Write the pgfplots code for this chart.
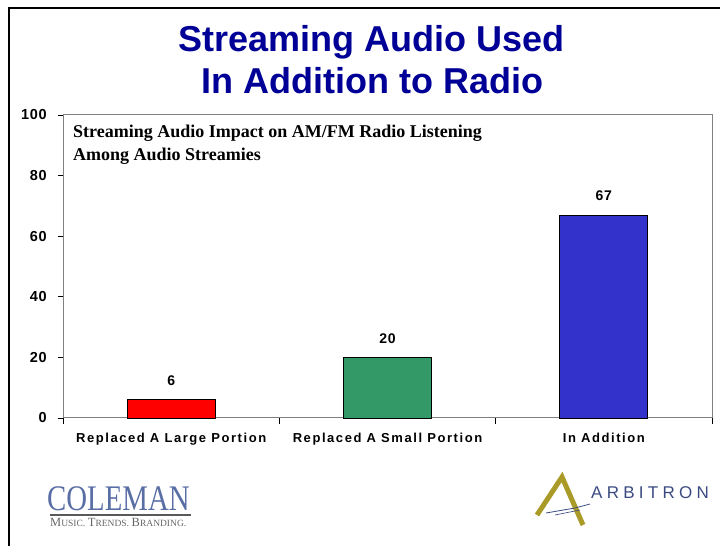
\documentclass[border=0pt]{standalone}
\usepackage{pgfplots}
\pgfplotsset{compat=1.18}
\usepackage{fontspec}
\setmainfont{Liberation Sans}
\newfontfamily\spaced[LetterSpace=12]{Liberation Sans}
\newfontfamily\numfont[LetterSpace=5]{Liberation Sans}
\newfontfamily\seriffont{Liberation Serif}
\newfontfamily\arbfont[LetterSpace=25]{Liberation Sans}
\definecolor{titleblue}{RGB}{0,0,150}
\definecolor{barred}{RGB}{255,0,0}
\definecolor{bargreen}{RGB}{51,153,102}
\definecolor{barblue}{RGB}{51,51,204}
\definecolor{colemanblue}{RGB}{90,110,166}
\definecolor{arbblue}{RGB}{58,74,128}
\definecolor{arbgold}{RGB}{170,155,40}
\newcommand{\fakesc}[2]{{\fontsize{12.5}{12}\selectfont #1}{\fontsize{9.5}{10}\selectfont #2}}
\begin{document}
\begin{tikzpicture}[x=1pt,y=1pt]
\useasboundingbox (0,0) rectangle (720,546);
\draw[line width=2.5pt] (7.75,538) -- (720,538);
\draw[line width=2.5pt] (9,539.25) -- (9,0);
\node[anchor=base, inner sep=0pt, font=\bfseries\fontsize{36}{40}\selectfont, text=titleblue] at (371.5,494) {Streaming Audio Used};
\node[anchor=base, inner sep=0pt, font=\bfseries\fontsize{36}{40}\selectfont, text=titleblue] at (372.5,452) {In Addition to Radio};
\begin{axis}[
  at={(63pt,128pt)}, anchor=south west, scale only axis,
  width=649pt, height=303pt,
  ymin=0, ymax=100, xmin=-0.5, xmax=2.5,
  ybar, bar width=88pt,
  ytick={0,20,40,60,80,100},
  xtick={0,1,2},
  xticklabels={Replaced A Large Portion, Replaced A Small Portion, In Addition},
  minor xtick={-0.5,0.5,1.5,2.5},
  tick align=outside,
  major tick length=5pt, minor tick length=6pt,
  x tick style={draw=none},
  minor x tick style={draw=black, line width=0.8pt},
  y tick style={draw=black, line width=0.8pt},
  ytick pos=left, xtick pos=bottom,
  axis line style={draw=gray, line width=1pt},
  /pgf/number format/assume math mode=true,
  yticklabel style={font=\numfont\bfseries\fontsize{14.5}{16}\selectfont, inner sep=0pt, xshift=-11pt},
  xticklabel style={font=\spaced\bfseries\fontsize{13}{14}\selectfont, inner sep=0pt, anchor=north, yshift=-10pt},
  nodes near coords,
  every node near coord/.append style={font=\numfont\bfseries\fontsize{14}{15}\selectfont, anchor=base, inner sep=0pt, yshift=14pt, text=black},
  clip=false,
]
\addplot[fill=barred, draw=black, line width=0.8pt, bar shift=0pt] coordinates {(0,6)};
\addplot[fill=bargreen, draw=black, line width=0.8pt, bar shift=0pt] coordinates {(1,20)};
\addplot[fill=barblue, draw=black, line width=0.8pt, bar shift=0pt] coordinates {(2,67)};
\end{axis}
\node[anchor=base west, inner sep=0pt, font=\seriffont\bfseries\fontsize{18}{20}\selectfont] at (73,408) {Streaming Audio Impact on AM/FM Radio Listening};
\node[anchor=base west, inner sep=0pt, font=\seriffont\bfseries\fontsize{18}{20}\selectfont] at (73,385) {Among Audio Streamies};
% Coleman logo
\node[anchor=base west, inner sep=0pt, font=\seriffont\fontsize{36}{36}\selectfont, text=colemanblue] at (47,35) {\scalebox{0.8}[1]{COLEMAN}};
\draw[line width=2.2pt, gray!70!black] (50,31) -- (191,31);
\node[anchor=base west, inner sep=0pt, font=\seriffont, text=gray!80!black] at (50,19) {\scalebox{1}[1]{\fakesc{M}{USIC}.\ \fakesc{T}{RENDS}.\ \fakesc{B}{RANDING}.}};
% Arbitron logo
\draw[line width=5pt, arbgold] (537,31) -- (562,69) -- (583,21);
\draw[arbblue, line width=0.8pt] (546,33) -- (575,38) -- (590,42);
\draw[arbblue, line width=0.6pt] (555,31) -- (580,36);
\node[anchor=base west, inner sep=0pt, font=\arbfont\fontsize{17}{17}\selectfont, text=arbblue] at (591,47) {ARBITRON};
\end{tikzpicture}
\end{document}
